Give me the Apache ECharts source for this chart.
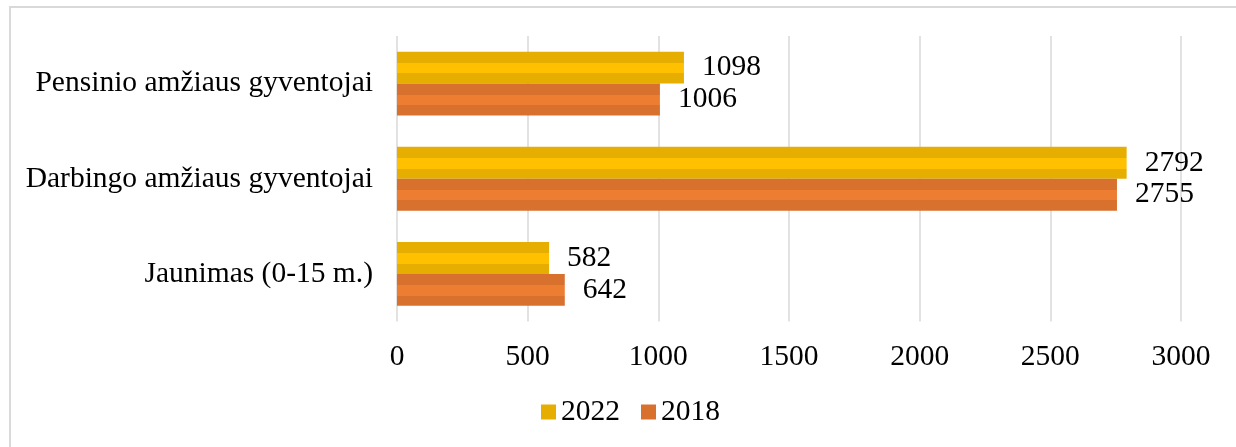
<!DOCTYPE html>
<html>
<head>
<meta charset="utf-8">
<script src="https://cdn.jsdelivr.net/npm/echarts@6/dist/echarts.min.js"></script>
<style>
html,body{margin:0;padding:0;background:#fff;}
#main{width:1236px;height:447px;}
</style>
</head>
<body>
<div id="main"></div>
<script>
var categories = ['Jaunimas (0-15 m.)', 'Darbingo amžiaus gyventojai', 'Pensinio amžiaus gyventojai'];
var values2022 = [582, 2792, 1098];
var values2018 = [642, 2755, 1006];
var xTicks = [0, 500, 1000, 1500, 2000, 2500, 3000];

var FONT = '"Liberation Serif", "Times New Roman", serif';
var FS = 29.5;

function stripe(outer, inner) {
  return {
    type: 'linear', x: 0, y: 0, x2: 0, y2: 1,
    colorStops: [
      {offset: 0, color: outer},
      {offset: 0.35, color: outer},
      {offset: 0.35, color: inner},
      {offset: 0.68, color: inner},
      {offset: 0.68, color: outer},
      {offset: 1, color: outer}
    ]
  };
}

var chart = echarts.init(document.getElementById('main'), null, {renderer: 'canvas'});
chart.setOption({
  animation: false,
  backgroundColor: '#ffffff',
  textStyle: {fontFamily: FONT},
  graphic: [
    {type: 'line', shape: {x1: 10, y1: 7, x2: 10, y2: 447}, style: {stroke: '#d9d9d9', lineWidth: 2}},
    {type: 'line', shape: {x1: 9, y1: 7, x2: 1236, y2: 7}, style: {stroke: '#d9d9d9', lineWidth: 2}}
  ],
  grid: {left: 397, right: 55, top: 36, bottom: 125.5, containLabel: false},
  legend: {
    left: 541, top: 397, padding: 0,
    itemWidth: 15, itemHeight: 15, itemGap: 21,
    icon: 'rect',
    textStyle: {fontFamily: FONT, fontSize: FS, color: '#000', lineHeight: 29},
    data: [
      {name: '2022', itemStyle: {color: '#E6AE00'}},
      {name: '2018', itemStyle: {color: '#D8702E'}}
    ]
  },
  xAxis: {
    type: 'value', min: xTicks[0], max: xTicks[xTicks.length - 1], interval: 500,
    axisLine: {show: false}, axisTick: {show: false},
    splitLine: {show: true, lineStyle: {color: '#d9d9d9', width: 1.5}},
    axisLabel: {fontFamily: FONT, fontSize: FS, color: '#000', margin: 21,
      formatter: function (v) { return String(v); }}
  },
  yAxis: {
    type: 'category', data: categories,
    axisLine: {show: false}, axisTick: {show: false},
    axisLabel: {fontFamily: FONT, fontSize: FS, color: '#000', margin: 24}
  },
  series: [
    {
      name: '2022', type: 'bar', data: values2022,
      barGap: '0%', barCategoryGap: '33%',
      itemStyle: {color: stripe('#E6AE00', '#FFC000')},
      label: {show: true, position: 'right', distance: 18, fontFamily: FONT, fontSize: FS, color: '#000'}
    },
    {
      name: '2018', type: 'bar', data: values2018,
      barGap: '0%', barCategoryGap: '33%',
      itemStyle: {color: stripe('#D8702E', '#ED7D31')},
      label: {show: true, position: 'right', distance: 18, fontFamily: FONT, fontSize: FS, color: '#000'}
    }
  ]
});
</script>
</body>
</html>
